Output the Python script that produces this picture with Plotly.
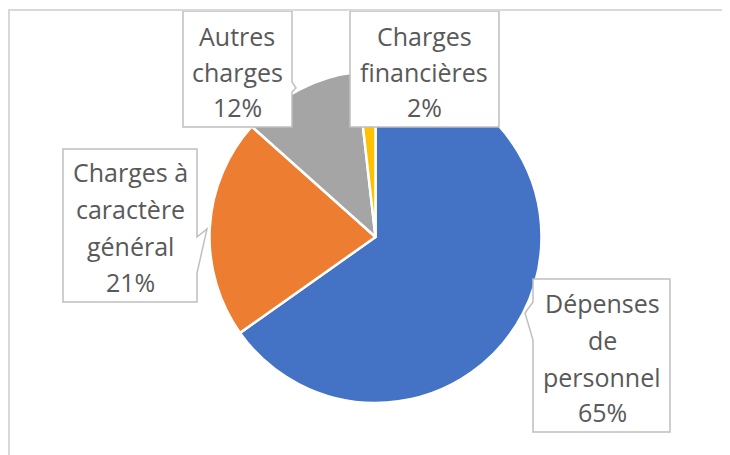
import plotly.graph_objects as go

# ---- data ----
labels = ["Dépenses de personnel", "Charges à caractère général", "Autres charges", "Charges financières"]
values = [65.2, 21.4, 11.6, 1.8]
pct_text = ["65%", "21%", "12%", "2%"]
label_lines = [["Dépenses", "de", "personnel"], ["Charges à", "caractère", "général"], ["Autres", "charges"], ["Charges", "financières"]]
colors = ["#4472C4", "#ED7D31", "#A5A5A5", "#FFC000"]

OFF = 8  # page body margin
W, H = 730 - OFF, 455 - OFF


def px(x):
    return (x - OFF) / W


def py(y):
    return 1 - (y - OFF) / H


fig = go.Figure()
fig.add_trace(go.Pie(
    labels=labels, values=values, sort=False, direction="clockwise", rotation=0,
    marker=dict(colors=colors, line=dict(color="white", width=2.5)),
    textinfo="none", hoverinfo="label+percent", showlegend=False,
    domain=dict(x=[px(375.5 - 166), px(375.5 + 166)], y=[py(403), py(71)]),
))

# callout boxes (pixel geometry): line centers y, outline path with pointer
boxes = [
    dict(cx=602, ys=[303, 340, 377, 412],
         path=[(533, 279), (670, 279), (670, 432), (533, 432), (533, 340), (525, 313), (533, 302)]),
    dict(cx=130, ys=[172, 209, 246, 282],
         path=[(63, 149), (197, 149), (197, 237), (207, 229), (197, 273), (197, 302), (63, 302)]),
    dict(cx=237, ys=[36, 72, 107],
         path=[(183, 11), (292, 11), (292, 82), (296, 88), (292, 92), (292, 127), (183, 127)]),
    dict(cx=424, ys=[36, 72, 107],
         path=[(350, 11), (499, 11), (499, 127), (350, 127)]),
]

shapes = []
annotations = []
for i, b in enumerate(boxes):
    pts = b["path"]
    d = "M " + " L ".join(f"{px(x):.5f},{py(y):.5f}" for x, y in pts) + " Z"
    shapes.append(dict(type="path", xref="paper", yref="paper", path=d,
                       fillcolor="white", line=dict(color="#BFBFBF", width=1.5)))
    lines = label_lines[i] + [pct_text[i]]
    for t, yy in zip(lines, b["ys"]):
        annotations.append(dict(x=px(b["cx"]), y=py(yy), xref="paper", yref="paper",
                                text=t, showarrow=False, xanchor="center", yanchor="middle",
                                font=dict(family="Open Sans", size=25, color="#595959")))

# chart frame
shapes.append(dict(type="path", xref="paper", yref="paper",
                   path=f"M {px(9)},{py(470)} L {px(9)},{py(10)} L {px(760)},{py(10)}",
                   line=dict(color="#D9D9D9", width=2)))

fig.update_layout(
    width=W, height=H, margin=dict(l=0, r=0, t=0, b=0),
    paper_bgcolor="white", plot_bgcolor="white",
    shapes=shapes, annotations=annotations,
)

fig.write_html("out.html")
